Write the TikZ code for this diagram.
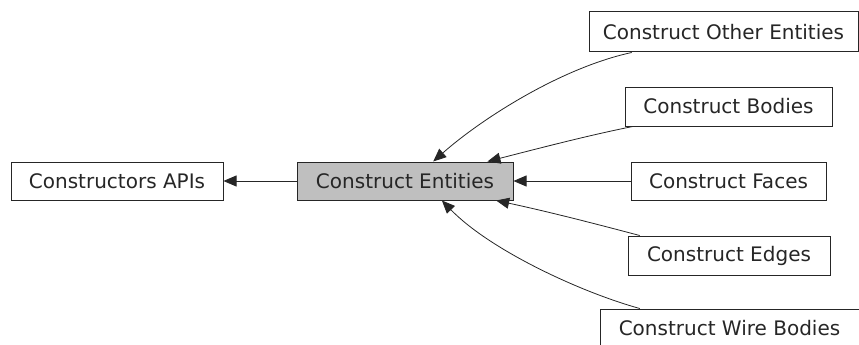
\documentclass[tikz,border=0pt]{standalone}
\usepackage{fontspec}
\setmainfont{DejaVu Sans}
\usetikzlibrary{arrows.meta,calc}
\begin{document}
\begin{tikzpicture}[x=1pt,y=-1pt,
  box/.style={draw=black!85,line width=1pt,minimum height=38pt,inner sep=0pt,
    font=\fontsize{20}{24}\selectfont,text=black!85},
  conn/.style={draw=black!85,line width=0.8pt,
    {Triangle[length=13pt,width=11pt]}-}]
\useasboundingbox (0,0) rectangle (859,345);
\node[box,minimum width=212pt] (api) at (117,181) {Constructors APIs};
\node[box,minimum width=216pt,fill=black!25] (ent) at (405,181) {Construct Entities};
\node[box,minimum width=269pt,minimum height=40pt] (oth) at (723.5,32) {Construct Other Entities};
\node[box,minimum width=207pt,minimum height=39pt] (bod) at (728.5,106.5) {Construct Bodies};
\node[box,minimum width=195pt] (fac) at (728.5,181) {Construct Faces};
\node[box,minimum width=202pt,minimum height=39pt] (edg) at (729,255.5) {Construct Edges};
\node[box,minimum width=259pt] (wir) at (729.5,328) {Construct Wire Bodies};
\draw[conn] (api.east) -- (ent.west);
\draw[conn] ($(ent.north west)!0.63!(ent.north east)$) .. controls (480,120) and (560,68) .. ($(oth.south west)!0.16!(oth.south east)$);
\draw[conn] ($(ent.north west)!0.88!(ent.north east)$) .. controls (540,148) and (590,135) .. ($(bod.south west)!0.04!(bod.south east)$);
\draw[conn] (ent.east) -- (fac.west);
\draw[conn] ($(ent.south west)!0.92!(ent.south east)$) .. controls (550,212) and (600,225) .. ($(edg.north west)!0.06!(edg.north east)$);
\draw[conn] ($(ent.south west)!0.67!(ent.south east)$) .. controls (490,250) and (580,292) .. ($(wir.north west)!0.155!(wir.north east)$);
\end{tikzpicture}
\end{document}
